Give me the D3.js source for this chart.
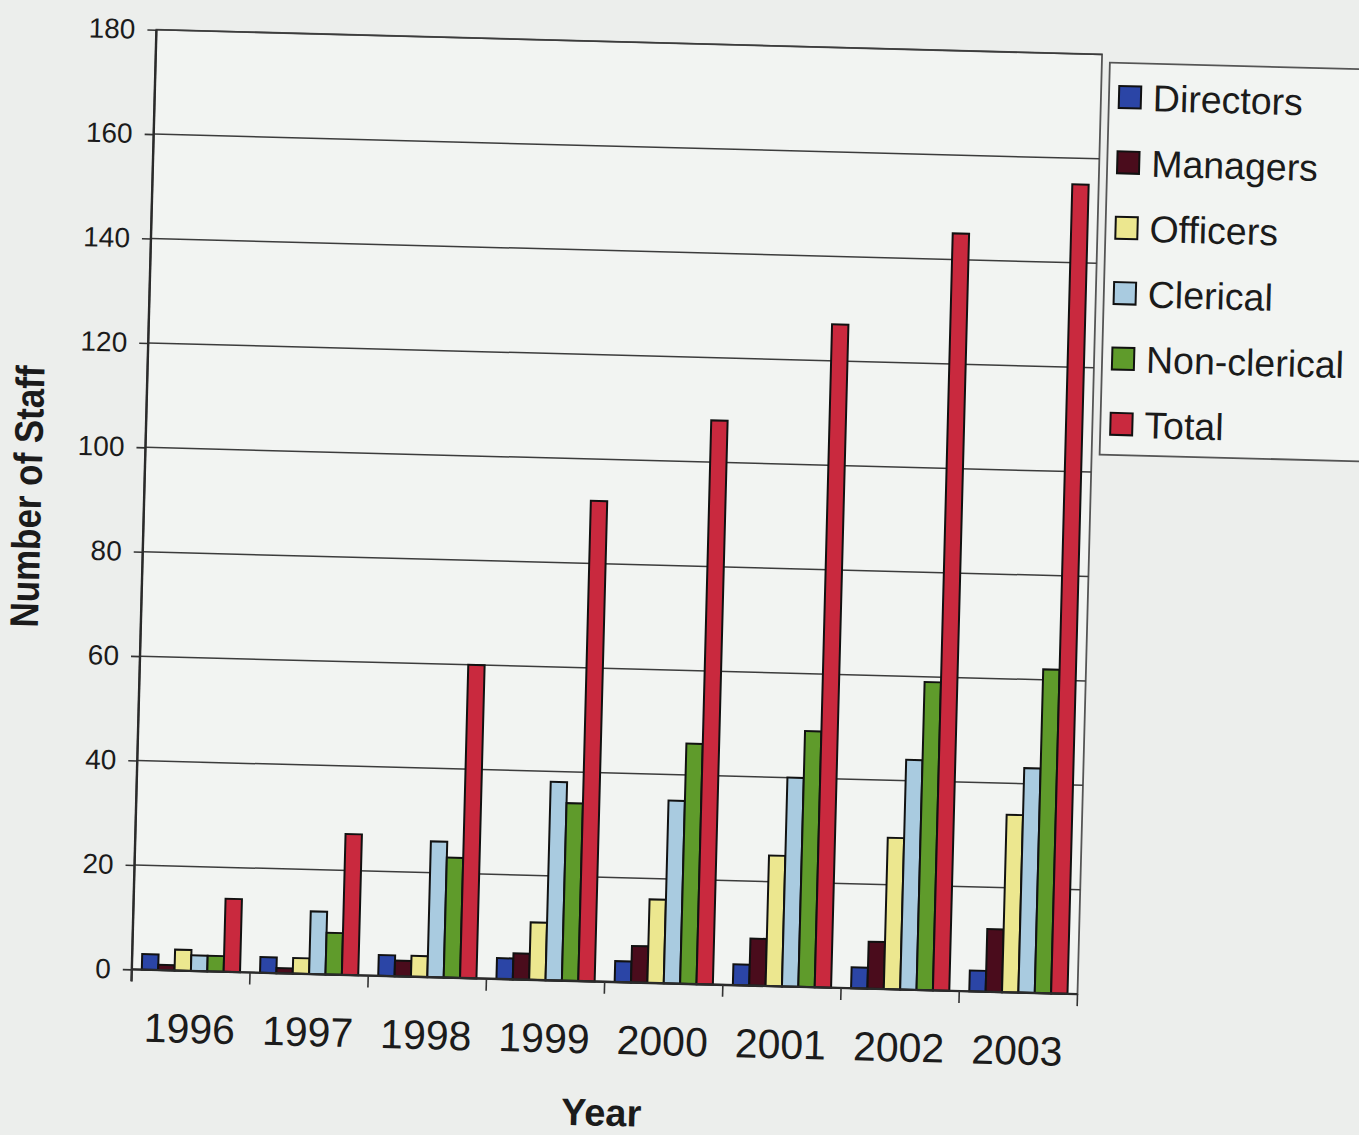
<!DOCTYPE html>
<html>
<head>
<meta charset="utf-8">
<script src="https://cdn.jsdelivr.net/npm/d3@7"></script>
<style>
  html, body { margin: 0; padding: 0; background: #eceeec; }
  svg { display: block; }
  text { font-family: "Liberation Sans", Arial, sans-serif; fill: #1b1b1b; }
</style>
</head>
<body>
<svg id="chart" width="1359" height="1135"></svg>
<script>
// Staff numbers by category, 1996-2003
const years = ["1996", "1997", "1998", "1999", "2000", "2001", "2002", "2003"];
const seriesNames = ["Directors", "Managers", "Officers", "Clerical", "Non-clerical", "Total"];
const directors   = [3, 3, 4, 4, 4, 4, 4, 4];
const managers    = [1, 1, 3, 5, 7, 9, 9, 12];
const officers    = [4, 3, 4, 11, 16, 25, 29, 34];
const clerical    = [3, 12, 26, 38, 35, 40, 44, 43];
const nonClerical = [3, 8, 23, 34, 46, 49, 59, 62];
const total       = [14, 27, 60, 92, 108, 127, 145, 155];
const yTicks = [0, 20, 40, 60, 80, 100, 120, 140, 160, 180];
const seriesColors = ["#2b45a6", "#4a0c1c", "#ece78f", "#a9cbe0", "#5f9b2b", "#c9293e"];

const seriesValues = [directors, managers, officers, clerical, nonClerical, total];
const rows = years.map((yr, i) => ({
  year: yr,
  values: seriesNames.map((s, k) => ({ series: s, value: seriesValues[k][i] }))
}));

const svg = d3.select("#chart");
const plot = { left: 144, right: 1090, top: 42, bottom: 982 };

svg.append("rect").attr("width", 1359).attr("height", 1135).attr("fill", "#eceeec");

// whole figure sits with a slight clockwise tilt
const g = svg.append("g").attr("transform", "rotate(1.5, 620, 510)");

const x0 = d3.scaleBand().domain(years).range([plot.left, plot.right]).padding(0);
const groupPad = 10;
const x1 = d3.scaleBand().domain(seriesNames)
  .range([groupPad, x0.bandwidth() - groupPad]).padding(0);
const y = d3.scaleLinear().domain([0, 180]).range([plot.bottom, plot.top]);
const color = d3.scaleOrdinal().domain(seriesNames).range(seriesColors);

// plot area
g.append("rect")
  .attr("x", plot.left).attr("y", plot.top)
  .attr("width", plot.right - plot.left).attr("height", plot.bottom - plot.top)
  .attr("fill", "#f2f4f2").attr("stroke", "#555").attr("stroke-width", 1.8);

// horizontal gridlines
g.append("g").selectAll("line").data(yTicks.filter(d => d > 0)).join("line")
  .attr("x1", plot.left).attr("x2", plot.right)
  .attr("y1", d => y(d)).attr("y2", d => y(d))
  .attr("stroke", "#3c3c3c").attr("stroke-width", 1.5);

// bars
const groups = g.append("g").selectAll("g").data(rows).join("g")
  .attr("transform", d => `translate(${x0(d.year)},0)`);
groups.selectAll("rect").data(d => d.values).join("rect")
  .attr("x", d => x1(d.series))
  .attr("width", x1.bandwidth())
  .attr("y", d => y(d.value))
  .attr("height", d => y(0) - y(d.value))
  .attr("fill", d => color(d.series))
  .attr("stroke", "#111").attr("stroke-width", 2);

// y axis
const yAxis = d3.axisLeft(y).tickValues(yTicks).tickSize(9).tickSizeOuter(0).tickPadding(12);
const ya = g.append("g").attr("transform", `translate(${plot.left},0)`).call(yAxis);
ya.select(".domain").remove();
ya.selectAll(".tick line").attr("stroke", "#333").attr("stroke-width", 1.6);
ya.selectAll(".tick text").attr("font-size", 28).attr("fill", "#1b1b1b")
  .style("font-family", "'Liberation Sans', Arial, sans-serif");
g.append("line")
  .attr("x1", plot.left).attr("x2", plot.left)
  .attr("y1", plot.top).attr("y2", plot.bottom + 12)
  .attr("stroke", "#2a2a2a").attr("stroke-width", 2.4);

// x axis: baseline, category boundary ticks and year labels
g.append("line")
  .attr("x1", plot.left).attr("x2", plot.right)
  .attr("y1", y(0)).attr("y2", y(0))
  .attr("stroke", "#2a2a2a").attr("stroke-width", 2.4);
const bounds = years.map(d => x0(d)).concat([x0(years[years.length - 1]) + x0.bandwidth()]);
g.append("g").selectAll("line").data(bounds).join("line")
  .attr("x1", d => d).attr("x2", d => d)
  .attr("y1", y(0)).attr("y2", y(0) + 12)
  .attr("stroke", "#333").attr("stroke-width", 1.6);
const xAxis = d3.axisBottom(x0).tickSize(0).tickPadding(72);
const xa = g.append("g").attr("transform", `translate(0,${plot.bottom})`).call(xAxis);
xa.select(".domain").remove();
xa.selectAll(".tick text").attr("font-size", 41).attr("fill", "#1b1b1b")
  .attr("dy", "0").style("font-family", "'Liberation Sans', Arial, sans-serif");

// axis titles
g.append("text")
  .attr("x", (plot.left + plot.right) / 2).attr("y", 1126)
  .attr("text-anchor", "middle").attr("font-size", 38).attr("font-weight", "bold")
  .text("Year");
g.append("text")
  .attr("transform", `translate(41,${(plot.top + plot.bottom) / 2}) rotate(-90)`)
  .attr("text-anchor", "middle").attr("font-size", 40).attr("font-weight", "bold")
  .attr("textLength", 262).attr("lengthAdjust", "spacingAndGlyphs")
  .text("Number of Staff");

// legend
const legend = g.append("g");
legend.append("rect")
  .attr("x", 1098).attr("y", 50).attr("width", 320).attr("height", 392)
  .attr("fill", "#f2f4f2").attr("stroke", "#555").attr("stroke-width", 1.8);
const items = legend.selectAll("g.item").data(seriesNames).join("g")
  .attr("class", "item")
  .attr("transform", (d, i) => `translate(1108,${84 + i * 65.4})`);
items.append("rect")
  .attr("x", 0).attr("y", -11).attr("width", 22).attr("height", 22)
  .attr("fill", d => color(d)).attr("stroke", "#111").attr("stroke-width", 2);
items.append("text")
  .attr("x", 34).attr("dy", "0.36em").attr("font-size", 37.5)
  .text(d => d);
</script>
</body>
</html>
